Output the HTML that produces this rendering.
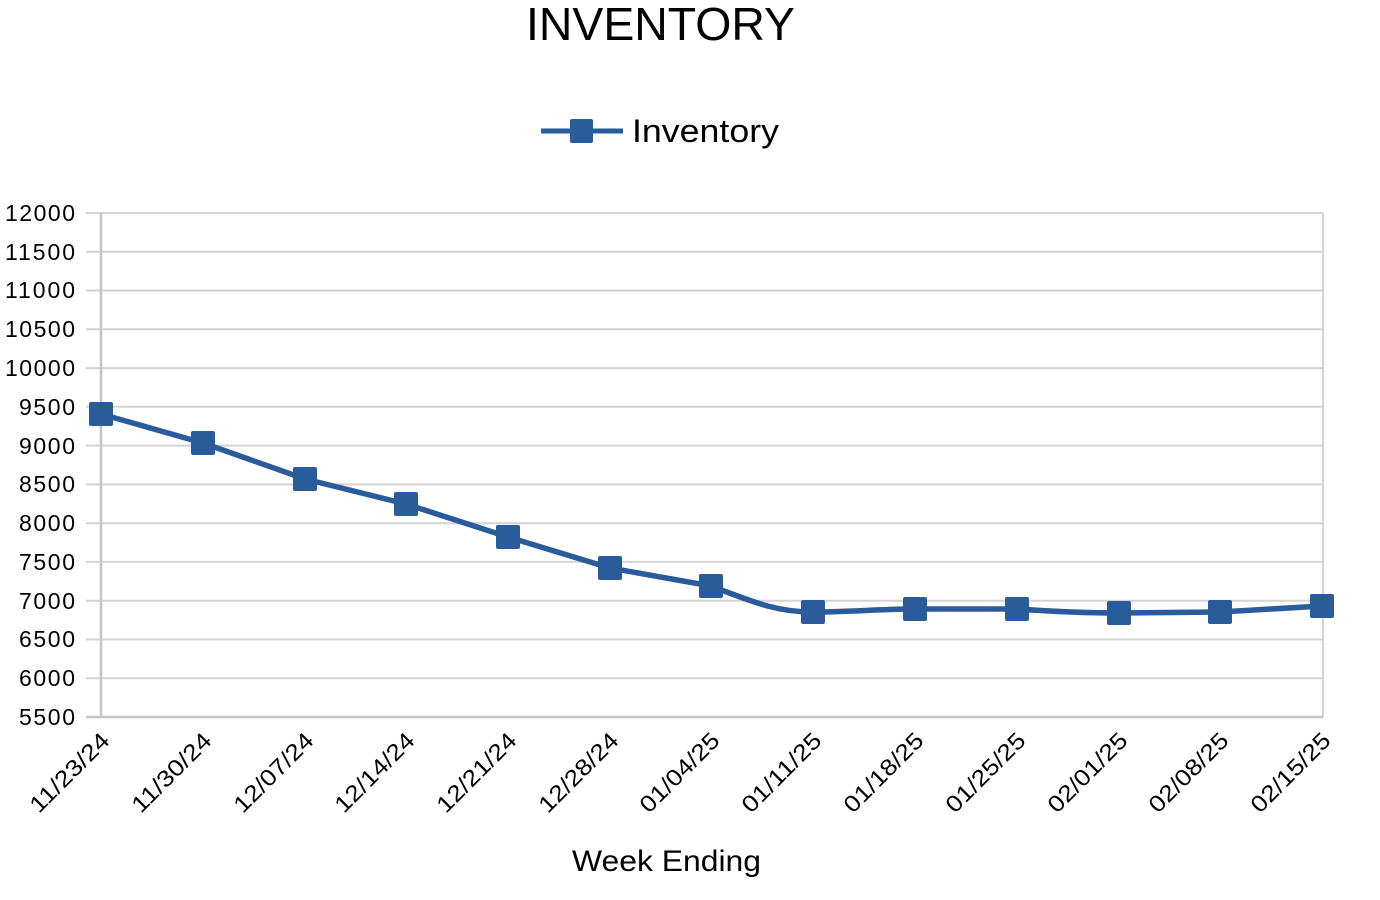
<!DOCTYPE html>
<html><head><meta charset="utf-8"><style>
html,body{margin:0;padding:0;background:#fff;}
svg{display:block;font-family:"Liberation Sans",Arial,sans-serif;}
</style></head><body>
<svg width="1380" height="900" viewBox="0 0 1380 900" xmlns="http://www.w3.org/2000/svg">
<rect width="1380" height="900" fill="#fff"/>
<text x="526" y="40" font-size="46" fill="#000" textLength="269" lengthAdjust="spacingAndGlyphs">INVENTORY</text>
<line x1="541" y1="131" x2="623" y2="131" stroke="#2a5b9b" stroke-width="5"/>
<rect x="570" y="119" width="23" height="24" rx="2" fill="#2a5b9b"/>
<text x="632" y="142" font-size="32" fill="#000" textLength="147" lengthAdjust="spacingAndGlyphs">Inventory</text>
<g stroke="#d4d4d4" stroke-width="2">
<line x1="86" y1="213" x2="1323" y2="213"/><line x1="86" y1="251.8" x2="1323" y2="251.8"/>
<line x1="86" y1="290.5" x2="1323" y2="290.5"/><line x1="86" y1="329.3" x2="1323" y2="329.3"/>
<line x1="86" y1="368.1" x2="1323" y2="368.1"/><line x1="86" y1="406.8" x2="1323" y2="406.8"/>
<line x1="86" y1="445.6" x2="1323" y2="445.6"/><line x1="86" y1="484.4" x2="1323" y2="484.4"/>
<line x1="86" y1="523.2" x2="1323" y2="523.2"/><line x1="86" y1="561.9" x2="1323" y2="561.9"/>
<line x1="86" y1="600.7" x2="1323" y2="600.7"/><line x1="86" y1="639.5" x2="1323" y2="639.5"/>
<line x1="86" y1="678.2" x2="1323" y2="678.2"/>
<line x1="1323" y1="213" x2="1323" y2="717"/>
</g>
<line x1="101" y1="213" x2="101" y2="717" stroke="#c4c4c4" stroke-width="2.5"/>
<line x1="86" y1="717" x2="1323" y2="717" stroke="#c4c4c4" stroke-width="2.5"/>
<g font-size="23" fill="#000" text-anchor="end" lengthAdjust="spacingAndGlyphs">
<text x="75" y="221" textLength="70">12000</text><text x="75" y="260" textLength="70">11500</text><text x="75" y="298" textLength="70">11000</text>
<text x="75" y="337" textLength="70">10500</text><text x="75" y="376" textLength="70">10000</text><text x="75" y="415" textLength="56">9500</text>
<text x="75" y="454" textLength="56">9000</text><text x="75" y="492" textLength="56">8500</text><text x="75" y="531" textLength="56">8000</text>
<text x="75" y="570" textLength="56">7500</text><text x="75" y="609" textLength="56">7000</text><text x="75" y="647" textLength="56">6500</text>
<text x="75" y="686" textLength="56">6000</text><text x="75" y="725" textLength="56">5500</text>
</g>
<g font-size="23" fill="#000" text-anchor="end">
<text transform="translate(111,742) rotate(-45)" textLength="102" lengthAdjust="spacingAndGlyphs">11/23/24</text>
<text transform="translate(213,742) rotate(-45)" textLength="102" lengthAdjust="spacingAndGlyphs">11/30/24</text>
<text transform="translate(315,742) rotate(-45)" textLength="102" lengthAdjust="spacingAndGlyphs">12/07/24</text>
<text transform="translate(416,742) rotate(-45)" textLength="102" lengthAdjust="spacingAndGlyphs">12/14/24</text>
<text transform="translate(518,742) rotate(-45)" textLength="102" lengthAdjust="spacingAndGlyphs">12/21/24</text>
<text transform="translate(620,742) rotate(-45)" textLength="102" lengthAdjust="spacingAndGlyphs">12/28/24</text>
<text transform="translate(721,742) rotate(-45)" textLength="102" lengthAdjust="spacingAndGlyphs">01/04/25</text>
<text transform="translate(823,742) rotate(-45)" textLength="102" lengthAdjust="spacingAndGlyphs">01/11/25</text>
<text transform="translate(925,742) rotate(-45)" textLength="102" lengthAdjust="spacingAndGlyphs">01/18/25</text>
<text transform="translate(1027,742) rotate(-45)" textLength="102" lengthAdjust="spacingAndGlyphs">01/25/25</text>
<text transform="translate(1129,742) rotate(-45)" textLength="102" lengthAdjust="spacingAndGlyphs">02/01/25</text>
<text transform="translate(1230,742) rotate(-45)" textLength="102" lengthAdjust="spacingAndGlyphs">02/08/25</text>
<text transform="translate(1332,742) rotate(-45)" textLength="102" lengthAdjust="spacingAndGlyphs">02/15/25</text>
</g>
<path d="M101,414 L203,443 L305,479 L406,504 L508,537 L610,568 L711,586 C760,605 780,612 813,612 C850,612 880,609 915,609 L1017,609 C1060,612 1090,613 1119,613 L1220,612 L1322,606" fill="none" stroke="#2a5b9b" stroke-width="5.5" stroke-linejoin="round"/>
<g fill="#2a5b9b">
<rect x="89" y="402" width="24" height="24" rx="2"/><rect x="191" y="431" width="24" height="24" rx="2"/>
<rect x="293" y="467" width="24" height="24" rx="2"/><rect x="394" y="492" width="24" height="24" rx="2"/>
<rect x="496" y="525" width="24" height="24" rx="2"/><rect x="598" y="556" width="24" height="24" rx="2"/>
<rect x="699" y="574" width="24" height="24" rx="2"/><rect x="801" y="600" width="24" height="24" rx="2"/>
<rect x="903" y="597" width="24" height="24" rx="2"/><rect x="1005" y="597" width="24" height="24" rx="2"/>
<rect x="1107" y="601" width="24" height="24" rx="2"/><rect x="1208" y="600" width="24" height="24" rx="2"/>
<rect x="1310" y="594" width="24" height="24" rx="2"/>
</g>
<text x="572" y="871" font-size="30" fill="#000" textLength="189" lengthAdjust="spacingAndGlyphs">Week Ending</text>
</svg>
</body></html>
